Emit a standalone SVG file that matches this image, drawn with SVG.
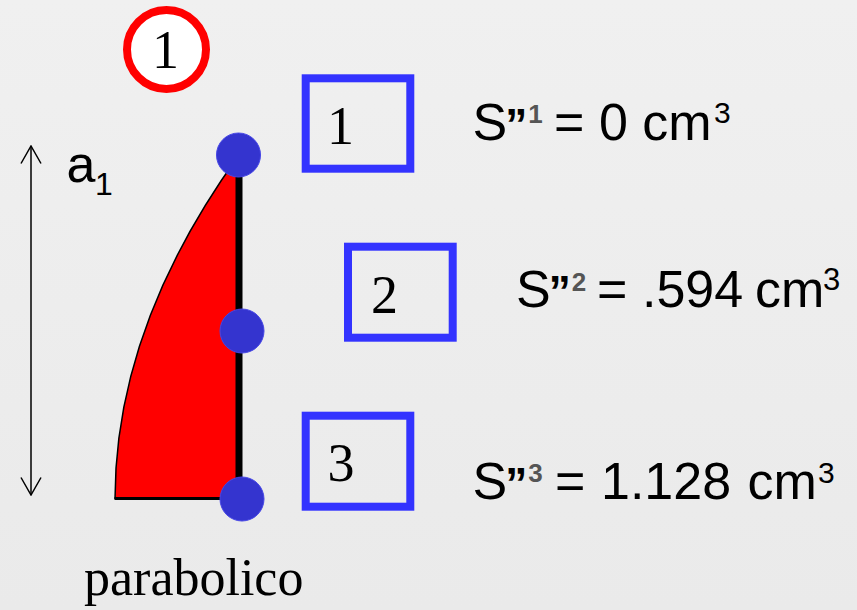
<svg xmlns="http://www.w3.org/2000/svg" width="857" height="610" viewBox="0 0 857 610">
<defs>
<linearGradient id="bg" x1="0" y1="0" x2="0" y2="1">
<stop offset="0" stop-color="#F0F0F0"/>
<stop offset="1" stop-color="#EAEAEA"/>
</linearGradient>
<marker id="vee" viewBox="0 0 19 22" refX="18" refY="11" markerWidth="19" markerHeight="22" markerUnits="userSpaceOnUse" orient="auto-start-reverse">
<path d="M0.5,1 L18,11 L0.5,21" fill="none" stroke="#000" stroke-width="1.5"/>
</marker>
</defs>
<style>
.serif{font-family:"Liberation Serif","Times New Roman",serif;fill:#000}
.sans{font-family:"Liberation Sans",Arial,sans-serif;fill:#000}
.box{fill:none;stroke:#3333FF;stroke-width:8}
.dot{fill:#3434CF;stroke:#4646E6;stroke-width:1}
.q{font-weight:bold;font-size:44px}
.sup{font-weight:bold;fill:#555555;font-size:26px}
</style>
<rect width="857" height="610" fill="url(#bg)"/>

<g id="badge">
<circle cx="166.5" cy="49.5" r="39.5" fill="#FFFFFF" stroke="#FF0000" stroke-width="8"/>
<text class="serif" x="152" y="68" font-size="54">1</text>
</g>

<g id="shape">
<path d="M115,499 Q115,327 239,155 L239,499 Z" fill="#FF0000"/>
<path d="M115,499 Q115,327 239,155" fill="none" stroke="#000" stroke-width="1.5"/>
<line x1="114.5" y1="498.5" x2="239" y2="498.5" stroke="#000" stroke-width="3"/>
<line x1="239" y1="155" x2="239" y2="499" stroke="#000" stroke-width="7"/>
</g>

<g id="point1"><circle class="dot" cx="238.5" cy="155" r="22"/></g>
<g id="point2"><circle class="dot" cx="242" cy="331" r="22"/></g>
<g id="point3"><circle class="dot" cx="242" cy="499" r="22"/></g>

<g id="box1">
<rect class="box" x="305.7" y="78.3" width="104.6" height="90.4"/>
<text class="serif" x="327" y="144" font-size="54">1</text>
</g>
<g id="box2">
<rect class="box" x="348" y="246.7" width="104.7" height="91"/>
<text class="serif" x="371" y="312.7" font-size="54">2</text>
</g>
<g id="box3">
<rect class="box" x="305.7" y="415.7" width="104.6" height="91"/>
<text class="serif" x="327.5" y="480.7" font-size="54">3</text>
</g>

<g id="label-a1">
<text class="sans" x="66.5" y="181.7" font-size="52">a</text>
<text class="sans" x="95" y="195" font-size="32">1</text>
</g>

<g id="label-parabolico">
<text class="serif" x="84" y="595" font-size="52">parabolico</text>
</g>

<g id="value1">
<text class="sans" x="472.6" y="140" font-size="52">S<tspan class="q" dx="-2">”</tspan><tspan class="sup" dx="1" y="122.7">1</tspan></text>
<text class="sans" x="554.1" y="140" font-size="52">= 0 cm</text>
<text class="sans" x="714" y="123" font-size="30">3</text>
</g>
<g id="value2">
<text class="sans" x="516" y="307.3" font-size="52">S<tspan class="q" dx="-2">”</tspan><tspan class="sup" dx="1" y="291">2</tspan></text>
<text class="sans" x="597" y="307.3" font-size="52">=</text>
<text class="sans" x="642" y="307.3" font-size="52">.594</text>
<text class="sans" x="755" y="307.3" font-size="52">cm</text>
<text class="sans" x="823" y="290" font-size="31">3</text>
</g>
<g id="value3">
<text class="sans" x="472.6" y="499.3" font-size="52">S<tspan class="q" dx="-2">”</tspan><tspan class="sup" dx="1" y="481.5">3</tspan></text>
<text class="sans" x="555" y="499.3" font-size="52">=</text>
<text class="sans" x="601" y="499.3" font-size="52">1.128</text>
<text class="sans" x="747.5" y="499.3" font-size="52">cm</text>
<text class="sans" x="818" y="483" font-size="30">3</text>
</g>

<g id="connectors">
<line x1="31" y1="146" x2="31" y2="495" stroke="#000" stroke-width="1.5" marker-start="url(#vee)" marker-end="url(#vee)"/>
</g>
</svg>
